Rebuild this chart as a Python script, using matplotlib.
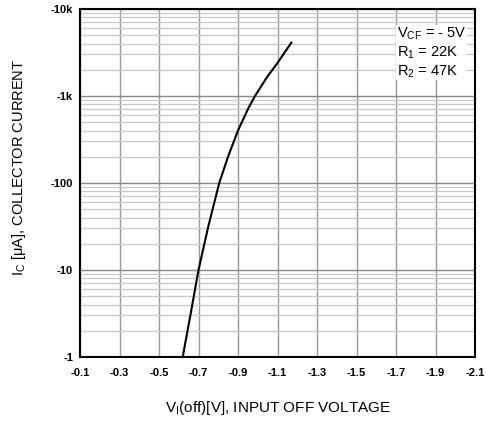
import matplotlib
matplotlib.use('Agg')
import matplotlib.pyplot as plt

plt.rcParams['font.family'] = ['Liberation Sans', 'DejaVu Sans']
plt.rcParams['mathtext.default'] = 'regular'

# curve: Vi(off) [V] vs |Ic| [uA]
v_off = [-0.62, -0.662, -0.70, -0.75, -0.805, -0.851, -0.901, -0.952, -0.986, -1.047, -1.10, -1.17]
i_c = [1, 3.3, 10, 32, 100, 205, 406, 720, 1000, 1650, 2400, 4100]

x_ticks = [-0.1, -0.3, -0.5, -0.7, -0.9, -1.1, -1.3, -1.5, -1.7, -1.9, -2.1]
x_labels = ['-0.1', '-0.3', '-0.5', '-0.7', '-0.9', '-1.1', '-1.3', '-1.5', '-1.7', '-1.9', '-2.1']
y_ticks = [1, 10, 100, 1000, 10000]
y_labels = ['-1', '-10', '-100', '-1k', '-10k']

fig = plt.figure(figsize=(4.86, 4.26), dpi=100)
ax = fig.add_axes([80/486, 69/426, 395/486, 348/426])

ax.plot(v_off, i_c, color='black', lw=1.5, zorder=3)

ax.set_yscale('log')
ax.set_xlim(-0.1, -2.1)
ax.set_ylim(1, 10000)
ax.set_xticks(x_ticks)
ax.set_xticklabels(x_labels, fontsize=8, fontweight='bold')
ax.set_yticks(y_ticks)
ax.set_yticklabels(y_labels, fontsize=8, fontweight='bold')
ax.tick_params(axis='both', which='both', length=0)
ax.tick_params(axis='x', pad=8)
ax.tick_params(axis='y', pad=5)

ax.grid(True, which='major', axis='x', color='#999999', lw=1)
ax.grid(True, which='major', axis='y', color='#888888', lw=1)
ax.grid(True, which='minor', axis='y', color='#c8c8c8', lw=0.9)
ax.set_axisbelow(True)
for s in ax.spines.values():
    s.set_linewidth(1.5)
    s.set_color('black')

ax.set_xlabel('V$_I$(off)[V], INPUT OFF VOLTAGE', fontsize=11)
ax.xaxis.set_label_coords(0.5, -0.122)
ax.set_ylabel('I$_C$ [μA], COLLECTOR CURRENT', fontsize=10.5)
ax.yaxis.set_label_coords(-0.132, 0.546)

ax.text(0.803, 0.952, 'V$_{CF}$ = - 5V\nR$_1$ = 22K\nR$_2$ = 47K',
        transform=ax.transAxes, fontsize=10.5, va='top', ha='left',
        linespacing=1.2,
        bbox=dict(facecolor='white', edgecolor='none', pad=0.5))

fig.savefig('out.png', dpi=100)
